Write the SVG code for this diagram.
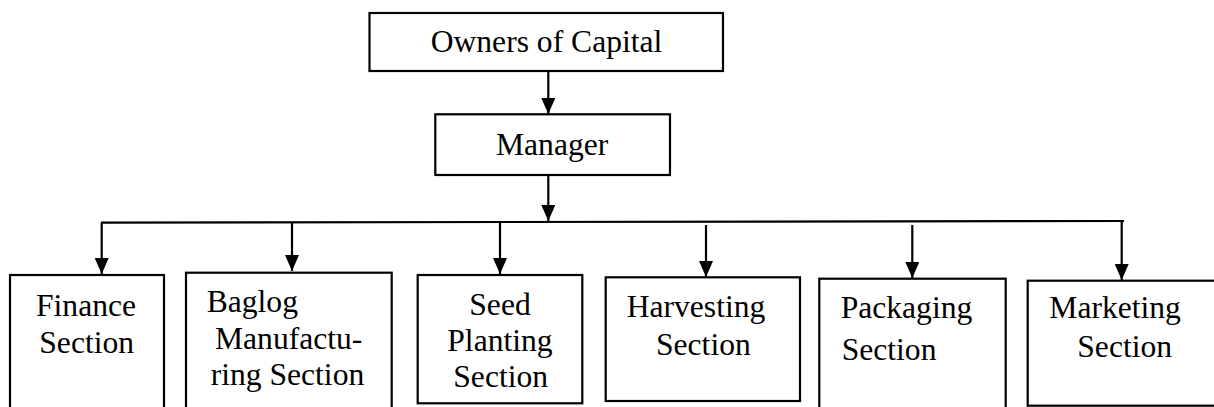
<svg xmlns="http://www.w3.org/2000/svg" width="1214" height="407" viewBox="0 0 1214 407">
  <style>
    .box { fill: #ffffff; stroke: #000000; stroke-width: 2.2; }
    .lbl { font-family: "Liberation Serif", "Times New Roman", serif; font-size: 31.6px; fill: #000000; }
    .wire { stroke: #000000; stroke-width: 2.2; fill: none; }
    .arrow { stroke: #000000; stroke-width: 2.2; fill: none; marker-end: url(#head); }
  </style>
  <defs>
    <marker id="head" viewBox="0 0 16 14" refX="16" refY="7" markerWidth="16" markerHeight="14" markerUnits="userSpaceOnUse" orient="auto">
      <path d="M0,0 L16,7 L0,14 Z" fill="#000000"/>
    </marker>
  </defs>
  <rect width="1214" height="407" fill="#ffffff"/>

  <g id="connectors">
    <line class="arrow" x1="548.3" y1="71" x2="548.3" y2="114"/>
    <line class="arrow" x1="548.3" y1="175" x2="548.3" y2="221"/>
    <line class="wire" x1="101" y1="222.7" x2="1124" y2="221"/>
    <line class="arrow" x1="101.7" y1="222.7" x2="101.7" y2="274"/>
    <line class="arrow" x1="292" y1="222.5" x2="292" y2="271"/>
    <line class="arrow" x1="500" y1="222" x2="500" y2="274"/>
    <line class="arrow" x1="706" y1="225" x2="706" y2="277"/>
    <line class="arrow" x1="912.3" y1="225" x2="912.3" y2="278"/>
    <line class="arrow" x1="1121.7" y1="222" x2="1121.7" y2="280"/>
  </g>

  <g id="owners">
    <rect class="box" x="369.5" y="13" width="353.5" height="58"/>
    <text class="lbl" x="430.7" y="52">Owners of Capital</text>
  </g>

  <g id="manager">
    <rect class="box" x="435.3" y="114.3" width="234.7" height="60.7"/>
    <text class="lbl" x="496" y="155">Manager</text>
  </g>

  <g id="finance">
    <rect class="box" x="10" y="275" width="154" height="140"/>
    <text class="lbl" x="36" y="316">Finance</text>
    <text class="lbl" x="39.3" y="352.5">Section</text>
  </g>

  <g id="baglog">
    <rect class="box" x="186" y="272.7" width="205.7" height="140"/>
    <text class="lbl" x="206.7" y="311.7">Baglog</text>
    <text class="lbl" x="215" y="349">Manufactu-</text>
    <text class="lbl" x="210.7" y="385">ring Section</text>
  </g>

  <g id="seed">
    <rect class="box" x="417.7" y="275" width="164.6" height="128.3"/>
    <text class="lbl" x="469.3" y="315">Seed</text>
    <text class="lbl" x="447.3" y="351">Planting</text>
    <text class="lbl" x="453.3" y="387.3">Section</text>
  </g>

  <g id="harvesting">
    <rect class="box" x="605.7" y="277.3" width="194.3" height="123.7"/>
    <text class="lbl" x="626.7" y="316.7">Harvesting</text>
    <text class="lbl" x="656" y="355">Section</text>
  </g>

  <g id="packaging">
    <rect class="box" x="819.3" y="278.7" width="186.4" height="140"/>
    <text class="lbl" x="840.7" y="317.7">Packaging</text>
    <text class="lbl" x="841.7" y="360">Section</text>
  </g>

  <g id="marketing">
    <rect class="box" x="1027.7" y="280.7" width="200" height="125"/>
    <text class="lbl" x="1049.3" y="318.3">Marketing</text>
    <text class="lbl" x="1077.3" y="357">Section</text>
  </g>
</svg>
